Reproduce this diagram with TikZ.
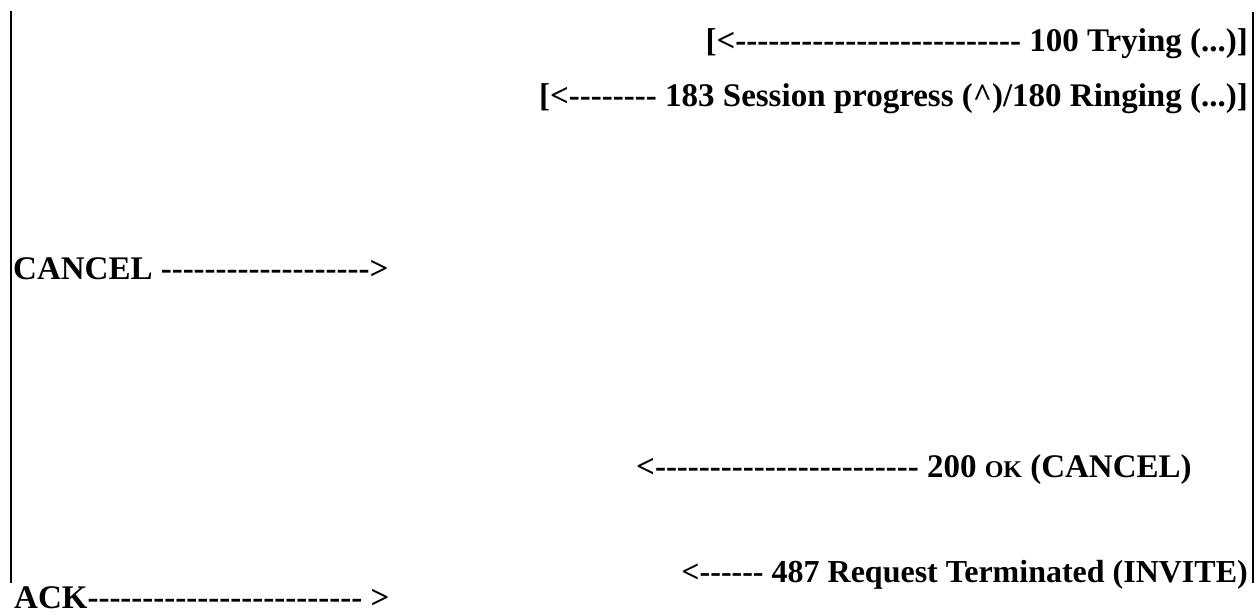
\documentclass[tikz,border=0pt]{standalone}
\usepackage{fontspec}
\setmainfont{Liberation Serif}[Ligatures=TeXOff]
\begin{document}
\begin{tikzpicture}[x=1pt,y=-1pt,
  msg/.style={font=\fontsize{33}{40}\selectfont\bfseries, inner sep=0pt},
  life/.style={line width=2pt}]
\useasboundingbox (0,0) rectangle (1256,615);
\coordinate (lt) at (11,11);
\coordinate (lb) at (11,583);
\coordinate (rt) at (1253,12);
\coordinate (rb) at (1253,583);
\draw[life] (lt) -- (lb);
\draw[life] (rt) -- (rb);
\node[msg, anchor=base east] (m1) at (1248,52) {[<-------------------------- 100 Trying (...)]};
\node[msg, anchor=base east] (m2) at (1248,107) {[<-------- 183 Session progress (\textasciicircum)/180 Ringing (...)]};
\node[msg, anchor=base west] (m3) at (13,279) {CANCEL ------------------->};
\node[msg, anchor=base west] (m4) at (636,477) {<------------------------ 200 {\fontsize{24}{28}\selectfont OK} (CANCEL)};
\node[msg, anchor=base east, font=\fontsize{32}{38}\selectfont\bfseries] (m5) at (1248,582) {<------ 487 Request Terminated (INVITE)};
\node[msg, anchor=base west] (m6) at (14,608) {ACK------------------------- >};
\end{tikzpicture}
\end{document}
